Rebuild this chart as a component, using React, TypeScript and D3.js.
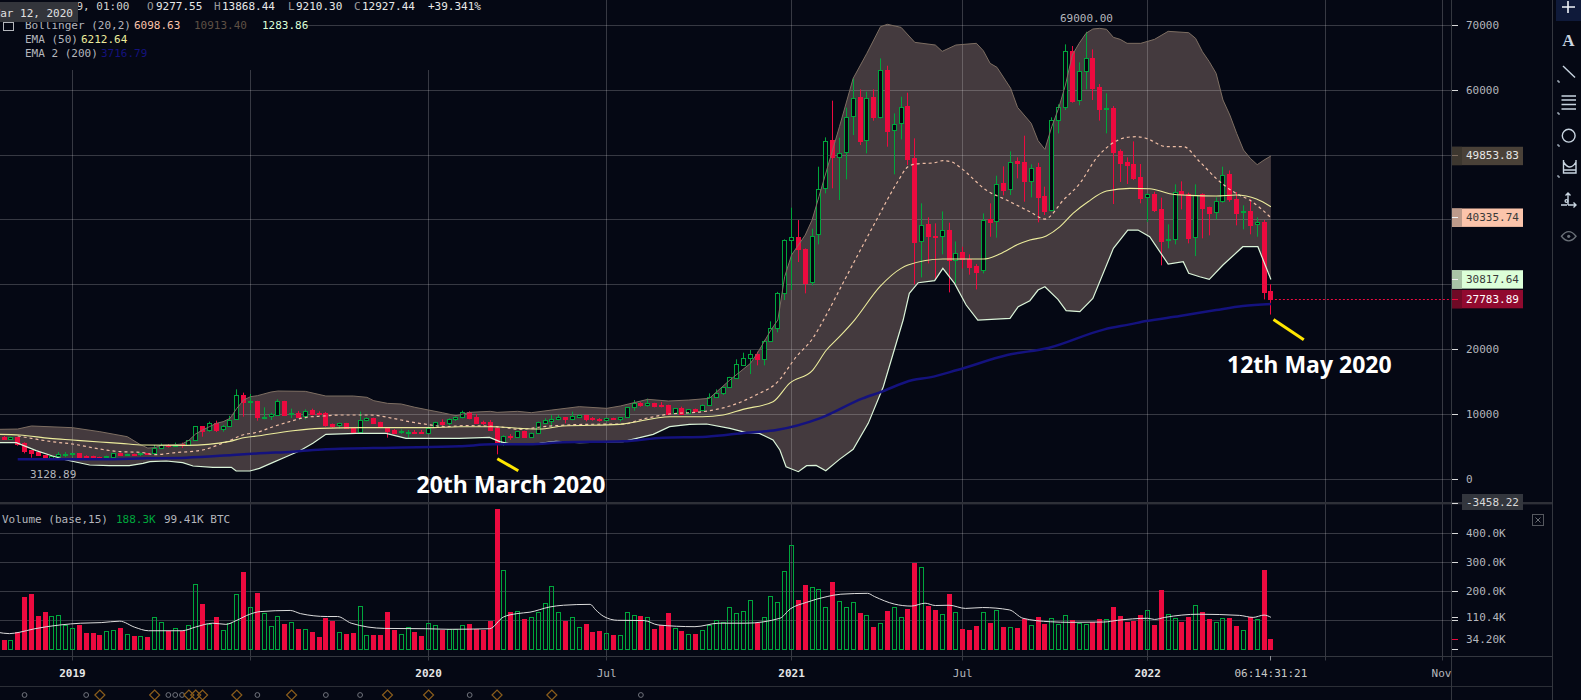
import React from "react";
import * as d3 from "d3";

type Bar = [number, number, number, number]; // open, high, low, close
type Pt = [number, number]; // bar index, value

const candles2018: Bar[] = [
  [6570,6680,6160,6210],[6260,6570,6210,6520],[6470,6520,5180,5490],[5540,5700,4000,4360],[4520,4520,3330,4100],
  [4260,4260,3640,3690],[3690,3740,3128.89,3330],[3330,3690,3280,3640],[3640,4200,3390,3900],[3800,4200,3430,3900],
  [3850,4050,3500,4000],[4000,4000,3430,3440],[3590,3700,3380,3440],[3540,3640,3330,3390],[3440,3490,3330,3390],
  [3390,3640,3330,3590],[3490,4000,3440,4000],[4000,4100,3640,3800],[3800,3950,3640,3900],[3900,3950,3700,3750],
  [3850,4100,3600,4000],[4000,4050,3800,3850],[4000,5290,3900,4880],[4880,5500,4700,5240],[5290,5440,4900,5130],
  [5190,5650,5000,5290],[5490,5650,4850,5240],[5290,6010,5240,6010],[6010,8220,5900,8170],[8170,8200,6570,7500],
  [7550,8890,7340,8630],[8630,9040,7290,7600],[7700,8370,7340,8170],[8170,9800,8100,9190],[9245,13871,9150,12946],
  [12950,13360,9660,11920],[11970,13150,10680,12020],[12020,12100,9040,9660],[9550,11100,9245,9660],[9760,10270,9140,10016],
  [9965,12330,9910,12020],[12020,12100,9900,9970],[10070,10890,9450,10170],[10220,10530,9550,9660],[9710,10790,9245,10580],
  [10680,10890,9860,10070],[10270,10480,9860,10070],[10170,10380,8114,8370],[8525,8600,7910,8270],[8320,8730,7810,8630],
  [8630,8700,7900,7960],[8010,8050,7300,7340],[7340,10430,7240,9090],[9090,9550,8940,9400],[9450,9500,8600,8630],
  [8830,8880,8000,8060],[7960,8060,6420,7450],[7600,7750,7030,7140],[7240,7700,7000,7390],[7240,7600,6420,7290],
  [7340,7600,7040,7240],[7340,7600,7100,7240],
];
const candles2020: Bar[] = [
  [7190,8110,6980,7860],[8010,8880,7950,8780],[8780,9240,8270,8580],[8630,9400,8320,9240],[9240,9700,8990,9550],
  [9550,10580,9400,10320],[10320,10480,9250,9500],[9600,10070,8630,8730],[8780,9040,8370,8630],[8780,9140,7490,7650],
  [7910,8000,3850,5540],[5490,6780,5180,6620],[6730,6980,6060,6570],[6570,7450,6500,7390],[7390,7500,6500,6520],
  [6570,7200,6500,7080],[7080,8900,7000,8780],[8730,9400,8520,9140],[9040,9910,8110,9240],[9240,9910,9100,9550],
  [9550,9600,8630,9240],[9240,10430,9100,9760],[9650,10000,9450,9910],[9860,9950,8930,9240],[9500,9600,9040,9240],
  [9350,9450,8880,9190],[9190,9500,9100,9450],[9450,9500,9150,9240],[9240,9600,8930,9550],[9550,11150,9500,11090],
  [11090,12220,10580,11710],[11810,11900,11190,11500],[11500,12430,11190,11760],[11760,11800,11100,11300],[11500,11910,11090,11400],
  [11400,11500,10000,10070],[10220,11000,10150,10940],[10940,11200,10020,10070],[10170,10850,10100,10790],[10840,10900,10320,10580],
  [10630,11550,10550,11450],[11400,13250,11300,12740],[12740,13870,12650,13250],[13250,14300,13000,14180],[14180,15800,14100,15720],
  [15670,18500,15600,17780],[17670,19520,17620,18650],[18650,19930,16230,19270],[19320,19680,17570,18500],[18500,21500,17570,21370],
  [21370,24350,21200,23280],[23300,28900,22660,28770],
];
const candles2021: Bar[] = [
  [28770,37000,27640,36840],[36840,41880,29180,37400],[37400,39970,33500,35450],[35450,35600,28670,30260],[30360,38640,29900,37560],
  [37770,48200,36220,44750],[44860,52720,44090,52210],[52310,58380,44860,49740],[49740,52670,43060,50360],[50410,57300,46250,55910],
  [55960,61820,53080,58840],[58890,60120,51540,52210],[52260,59760,50260,58840],[58890,60120,55290,55910],[55910,64900,55650,63050],
  [63100,63770,51280,53750],[53800,56420,47020,54830],[54880,58990,52410,57450],[57550,59610,48460,49430],[49480,52570,30060,36630],
  [36680,42550,31130,39260],[39310,40390,33290,37560],[37560,39460,30830,37350],[37460,41310,34680,38380],[38430,39560,28820,33810],
  [33810,36680,30210,34940],[34990,35860,32520,33910],[33910,34680,31550,32780],[32880,33190,29280,31960],[32210,41000,31750,40030],
  [40080,42550,37400,39720],[39770,46810,37250,45580],[45630,48250,43780,44600],[44700,50560,43830,48970],[49020,49640,46400,48820],
  [48920,52980,42800,46040],[46040,48560,43470,48050],[48100,48800,39620,43570],[43680,45120,40750,41410],[41470,55810,41300,55340],
  [55340,57810,53340,57350],[57350,67060,56940,65980],[65980,66810,58070,58330],[58430,64290,57660,62900],[62900,69000,60120,64900],
  [64960,66290,58480,60380],[60480,60950,55300,57140],[57140,59510,53340,57190],[57190,57550,42440,50510],[50610,50870,45840,48820],
  [48920,49640,45530,48510],[48610,52100,46140,46500],[46610,48610,42550,43420],[43470,44090,39670,43930],[43980,44340,41210,41570],
];
const candles2022: Bar[] = [
  [41620,43420,32990,36790],[36840,39310,35610,36990],[36990,45480,36220,44340],[44400,45940,41620,44040],[43980,44190,36380,37250],
  [37300,45480,34420,43880],[43930,44090,37150,41880],[41980,42030,37610,41110],[41160,43470,40080,42850],[42850,48200,42650,46960],
  [47070,47630,42800,43160],[43160,44290,39150,41110],[41160,42240,38540,41310],[41310,43160,37770,39260],[39310,40390,37400,39620],
  [39670,39980,27740,28920],[29030,30060,25400,27783.89],
];
const candles: Bar[] = [...candles2018, ...candles2020, ...candles2021, ...candles2022];

const volumesK = [
  32,31,59,180,191,115,129,114,117,83,72,84,56,56,49,62,66,74,52,46,45,43,110,93,64,72,63,83,224,156,
  88,111,66,91,190,267,145,194,124,79,114,87,93,70,69,60,43,108,99,59,53,56,148,48,49,49,129,67,52,76,
  60,46,90,83,67,69,69,83,87,71,67,98,484,272,129,131,105,110,128,159,217,128,98,110,76,87,60,63,55,49,
  48,128,117,114,110,70,83,125,72,63,52,53,66,83,100,93,145,124,131,169,91,110,183,162,269,359,170,222,214,207,
  145,232,166,145,162,125,117,77,90,132,145,110,139,298,283,149,136,121,191,128,70,67,80,128,91,134,77,76,74,105,
  83,111,87,107,87,117,100,90,86,93,105,103,146,114,94,99,118,134,84,203,121,107,94,113,152,129,105,93,107,108,
  80,66,110,103,273,34.2,
];

const upperBand: Pt[] = [
  [-1,7700],[2,7750],[4,8220],[10,7960],[14,7340],[18,6570],[20,5290],[21,4820],[22,4880],[23,5240],[25,5340],[26,5440],[27,6010],
  [28,7000],[29,7600],[30,8110],[31,8630],[32,8885],[33,9400],[34,10940],[35,12230],[36,12740],[37,12890],[39,13460],[40,13610],
  [44,13560],[47,12840],[51,12840],[53,12640],[54,12120],[56,11710],[58,11610],[60,11100],[62,10680],[64,10270],[66,9810],[68,10320],
  [71,10480],[72,10320],[75,10480],[77,10270],[80,10680],[84,11200],[88,10940],[90,11300],[94,12330],[97,12070],[100,12220],[103,12480],
  [106,15310],[109,17880],[110,19420],[112,23020],[113,24560],[114,31240],[115,34580],[117,37660],[118,39975],[119,43570],[121,50770],
  [122,54370],[124,61820],[126,65675],[128,69790],[129,70150],[131,69680],[133,67370],[136,66960],[137,65980],[139,66960],[142,67220],
  [143,66090],[144,64130],[145,63520],[147,60280],[148,57350],[150,54880],[151,52210],[152,50870],[153,54370],[154,57190],[155,60790],
  [156,65420],[157,67220],[158,68760],[159,69430],[160,69530],[161,69380],[162,68140],[163,67830],[164,67220],[166,67220],[168,67830],
  [170,69070],[173,68860],[174,67990],[175,65930],[176,64390],[177,62590],[178,58480],[179,56170],[180,53340],[181,50770],[182,49480],
  [183,48510],[184,49230],[185,49853.83],
];
const basisBand: Pt[] = [
  [2,6675],[4,6315],[7,5800],[10,5440],[14,4670],[17,4260],[20,4155],[22,3800],[25,4105],[29,4515],[31.5,5390],[33.4,6160],[34.4,6675],
  [37.3,7343],[39.3,8114],[41.7,8885],[44.1,9553],[46.6,9759],[49,9913],[53.4,9913],[56.8,9399],[59.2,8885],[61.7,8474],[64.6,8114],
  [67,8268],[70.4,8217],[73.3,7960],[75.3,7703],[78.7,8112],[85,8472],[90.4,8523],[93.3,9294],[97.2,10065],[102,10425],[106,11299],
  [109.8,12995],[113,15051],[115.7,18906],[118.1,21733],[119.8,24812],[123,31237],[127.4,39975],[130.5,45886],[132,48199],[133.2,48610],
  [135.9,48816],[137.1,49125],[138.3,48970],[139.8,47942],[143.4,44601],[146.4,43059],[149.8,41260],[152,40129],[154.7,43059],[157.1,45629],
  [159.5,49484],[161.5,51540],[163.9,52722],[165.4,52825],[166.8,52568],[169.7,51283],[172.2,51283],[174.6,48970],[177,46400],[179.9,44087],
  [181.9,43059],[185,40335.74],
];
const lowerBand: Pt[] = [
  [-1,5647],[1.8,5647],[4.7,4413],[7.1,3591],[9.1,2974],[12.5,2203],[15.4,2100],[18.3,2100],[20.3,2460],[21.3,2717],[23.7,2820],[26.1,2563],
  [27.6,2049],[30.5,1843],[33.2,1843],[33.9,1278],[35.9,1278],[37.3,1689],[39.3,2614],[41.2,3488],[43.2,4413],[45.1,5544],[47,6932],[51.4,7086],
  [55.8,7086],[58.7,6315],[63.1,6315],[66.5,6315],[70.9,6469],[72.4,5801],[74.3,5390],[78.2,5544],[80.6,5850],[84,5645],[90.4,5800],[94.8,6930],
  [97.2,8112],[100.1,8472],[102.6,8523],[106,7855],[108.4,7187],[110.3,7084],[112.3,6056],[113.3,4514],[114.2,1944],[116,1173],[117.2,2098],
  [118.6,2150],[120,1328],[122,3075],[124,4617],[126.2,8626],[128.4,14280],[131.3,24555],[132.2,28667],[133.5,30312],[135.9,30620],[137.1,32522],
  [138.8,30209],[140.5,26868],[142.2,24555],[146.9,24812],[148.1,26611],[149.8,27536],[151,29181],[152,29695],[153.9,27742],[155.1,25994],
  [157.1,25840],[159,27896],[162,35606],[164.1,38433],[165.6,38433],[167.3,37405],[170,33190],[172.2,33550],[173,31751],[174.6,31237],[176,30826],
  [178,33036],[180.9,35863],[183.1,35863],[185,30817.64],
];
const ema50: Pt[] = [
  [-1,6932],[2.3,6829],[6.7,6315],[10,6058],[14,5750],[17,5544],[20.3,5287],[26.6,5236],[33,5852],[34.4,6264],[37.3,6726],[42.2,7497],[46.1,7857],
  [51.9,7960],[61.7,7960],[66.5,8114],[71.4,8114],[75.3,7857],[78.2,7754],[81.6,8215],[89.9,8472],[97.2,9654],[102,9654],[105,9911],[107.9,10785],
  [112.3,11967],[114.7,14794],[118.1,16850],[120.1,19934],[122,21990],[124.2,24555],[127.9,29695],[131,32522],[132,33035],[137.1,33961],[143,33961],
  [145.4,34733],[148.1,36223],[149.8,36891],[152.2,37508],[154.2,38947],[156.1,41003],[158.3,42802],[161,44447],[164.4,44858],[167.3,44807],
  [170.2,44036],[173.1,43779],[177,43676],[179.9,43830],[182.9,43213],[185,42031],
];
const ema200: Pt[] = [
  [2,3077],[14,3077],[20.8,3231],[26.6,3334],[33.4,3745],[37.3,4002],[42.2,4259],[47,4619],[56.8,4876],[66.5,5081],[71.4,5390],[76.75,5388],[81.6,5696],
  [90.4,5850],[96.2,6415],[102.6,6570],[108.4,7187],[112.8,7598],[119.1,9397],[125.4,12481],[127.9,13406],[132.7,15308],[135.2,15719],[139.2,16850],
  [146.5,19160],[152.5,20250],[160.7,23116],[164.4,23887],[166.8,24401],[171.7,25172],[177,26097],[180.9,26714],[185,27022],
];
const volumeMA: Pt[] = [
  [-1,59],[0.8,54],[2.3,59],[4.3,70],[8.2,84],[11.2,90],[14.2,92],[16.9,97],[19.1,76],[21.1,64],[26,64],[28,77],[30.5,90],[32.4,86],[33.9,99],[35.9,121],
  [37.4,130],[41.8,134],[43.3,123],[47.2,113],[48.7,113],[50.7,90],[55.6,72],[61.6,71],[65,69],[70.9,71],[72.9,111],[74.9,123],[76.8,128],[79.7,146],
  [81.7,152],[85.6,155],[86.4,136],[87.6,113],[89.6,100],[93.5,99],[95.5,84],[100.9,78],[104.4,90],[108.3,90],[113.3,107],[114.8,139],[117.2,162],
  [120.2,182],[122.2,190],[126.1,193],[127.1,182],[130,156],[132.5,149],[134.5,159],[136,151],[138,152],[140.4,141],[142.9,144],[146.8,136],[148.8,107],
  [152.8,95],[155.7,93],[160.6,94],[162.6,100],[167,107],[168,103],[169.5,110],[174.5,121],[180.4,117],[182.4,110],[184,118],[185,110.4],
];

const timeTicks: [number, string, boolean][] = [
  [10,"2019",true],[36,"",false],[62,"2020",true],[88,"Jul",false],[115,"2021",true],[140,"Jul",false],[167,"2022",true],[193,"",false],[210,"Nov",false],
];
const priceGrid = [70000,60000,50000,40000,30000,20000,10000,0];
const priceLabels = [70000,60000,20000,10000,0];
const volGrid = [100,200,300,400];
const volLabels: [number,string][] = [[400,"400.0K"],[300,"300.0K"],[200,"200.0K"],[110.4,"110.4K"],[34.2,"34.20K"]];
const grayMarks = [3,12,24,25,26,37,47,52,68,93];
const orangeMarks = [14,22,27,28,29,34,42,56,62,72,80];
const priceBoxes: [number,string,string,string,string][] = [
  [49853.83,"#4a4138","#3d372f","#e6e6e6","#7a6a5e"],
  [40335.74,"#fbc4ab","#bd9b8b","#3a3a3a","#f0f0f0"],
  [30817.64,"#dcffd8","#a9c4a6","#3a3a3a","#f0f0f0"],
  [27783.89,"#910a2f","#6f0a26","#ffffff","#ed0a3f"],
];

const BG = "#050814", RED = "#ed0a3f", GREEN = "#00a63c", GRID = "rgba(255,255,255,0.2)";
const MONO = "'DejaVu Sans Mono', monospace";
const AXIS_TEXT = "#b4b6bc";

const x = d3.scaleLinear().domain([0, 185]).range([4, 1270.9]);
const y = d3.scaleLinear().domain([0, 70000]).range([479.3, 25.3]);
const yv = d3.scaleLinear().domain([0, 400]).range([649.3, 533.3]);
const crisp = (v: number) => Math.floor(v) + 0.5;
const barLeft = (i: number) => Math.round(x(i) - 2.5);

const priceLine = d3.line<Pt>().x(d => x(d[0])).y(d => y(d[1])).curve(d3.curveMonotoneX);
const volLine = d3.line<Pt>().x(d => x(d[0])).y(d => yv(d[1])).curve(d3.curveMonotoneX);
const straightLine = d3.line<Pt>().x(d => x(d[0])).y(d => y(d[1]));
const bandPath = straightLine([...upperBand, ...[...lowerBand].reverse()]) + "Z";

const T = (p: any) => <text fontFamily={MONO} fontSize={11} dominantBaseline="central" {...p} />;

const Toolbar = () => (
  <g stroke="#c8d4e0" fill="none" strokeWidth={1.4}>
    <rect x={1556} y={0} width={25} height={21} fill="#0f1a3a" stroke="none" />
    <path d="M1568 1V13M1562 7H1575" stroke="#eef2f8" strokeWidth={1.6} />
    <text x={1568.5} y={46} textAnchor="middle" fontFamily="'Liberation Serif', serif" fontWeight="bold" fontSize={17} fill="#c8d4e0" stroke="none">A</text>
    <path d="M1563 66L1575 77.5" />
    <path d="M1561.5 96H1576M1561.5 100H1576M1561.5 104.5H1576M1561.5 109H1576" />
    <circle cx={1568.7} cy={135.7} r={6.4} />
    <path d="M1563.5 160V173H1576V160M1563.5 170H1576M1563.5 162Q1570 172 1576 162" />
    <path d="M1568 193V205M1568 205H1576M1565.5 195.5L1568 193L1570.5 195.5M1573.5 202.5L1576 205L1573.5 207.5M1561 205H1567" />
    <circle cx={1566.5} cy={201} r={1.4} />
    <path d="M1561.5 236.3Q1568.7 227 1576 236.3Q1568.7 245.5 1561.5 236.3Z" stroke="#6a7078" />
    <circle cx={1568.7} cy={236.3} r={1.6} fill="#6a7078" stroke="none" />
    <path d="M1558 80V82H1560M1558 112V114H1560M1558 144V146H1560M1558 175V177H1560" stroke="#c8d4e0" strokeWidth={1} />
  </g>
);

export default function App() {
  React.useEffect(() => {
    document.body.style.margin = "0";
    document.body.style.background = BG;
    document.body.style.overflow = "hidden";
  }, []);
  return (
    <svg width={1581} height={700} style={{ position: "fixed", left: 0, top: 0, display: "block", background: BG }}>
      {/* band */}
      <path d={bandPath} fill="#443a3e" stroke="none" />

      {/* grid */}
      <g stroke={GRID} strokeWidth={1}>
        {priceGrid.map(v => (
          <line key={v} x1={v === 70000 ? 305 : 0} x2={1452} y1={crisp(y(v))} y2={crisp(y(v))} />
        ))}
        {volGrid.map(v => <line key={v} x1={0} x2={1452} y1={crisp(yv(v))} y2={crisp(yv(v))} />)}
        {timeTicks.map(t => (
          <line key={t[0]} x1={crisp(x(t[0]))} x2={crisp(x(t[0]))} y1={x(t[0]) < 500 ? 70 : 0} y2={660.5} />
        ))}
      </g>

      {/* candles */}
      {candles.map((c, i) => {
        const up = c[3] >= c[0];
        const col = up ? GREEN : RED;
        const top = Math.round(y(Math.max(c[0], c[3])));
        const bot = Math.round(y(Math.min(c[0], c[3])));
        const l = barLeft(i);
        return (
          <g key={i}>
            <line x1={l + 2.5} x2={l + 2.5} y1={y(c[1])} y2={y(c[2])} stroke={col} strokeWidth={1} />
            {up
              ? <rect x={l + 0.5} y={top + 0.5} width={4} height={Math.max(bot - top, 1)} fill="#040610" stroke={col} strokeWidth={1} />
              : <rect x={l} y={top} width={5} height={Math.max(bot - top + 1, 2)} fill={RED} />}
          </g>
        );
      })}

      {/* band lines and averages */}
      <path d={straightLine(upperBand)!} fill="none" stroke="#7d6e62" strokeWidth={1} />
      <path d={straightLine(lowerBand)!} fill="none" stroke="#dcf5da" strokeWidth={1.2} />
      <path d={priceLine(basisBand)!} fill="none" stroke="#f0bfa6" strokeWidth={1.2} strokeDasharray="3 3" />
      <path d={priceLine(ema50)!} fill="none" stroke="#ecec9c" strokeWidth={1.1} />
      <path d={priceLine(ema200)!} fill="none" stroke="#14127e" strokeWidth={2.5} />

      {/* last price */}
      <line x1={x(185)} x2={1452} y1={crisp(y(27783.89))} y2={crisp(y(27783.89))} stroke={RED} strokeWidth={1} strokeDasharray="2 2" />

      {/* volume */}
      {volumesK.map((v, i) => {
        const up = candles[i][3] >= candles[i][0];
        const l = barLeft(i);
        const t = Math.round(yv(v));
        const b = Math.round(yv(0));
        return up
          ? <rect key={i} x={l + 0.5} y={t + 0.5} width={4} height={b - t} fill="none" stroke={GREEN} strokeWidth={1} />
          : <rect key={i} x={l} y={t} width={5} height={b - t + 1} fill={RED} />;
      })}
      <path d={volLine(volumeMA)!} fill="none" stroke="#dcdcdc" strokeWidth={1} />

      {/* pane structure */}
      <rect x={0} y={502} width={1552} height={2.4} fill="#2e3038" />
      <line x1={0} x2={1552} y1={656.5} y2={656.5} stroke="#34373f" />
      <line x1={0} x2={1552} y1={686.5} y2={686.5} stroke="#2b2e36" />
      <line x1={1451.5} x2={1451.5} y1={0} y2={700} stroke="#34373f" />
      <line x1={1552.5} x2={1552.5} y1={0} y2={700} stroke="#34373f" />
      <rect x={1452} y={657} width={100} height={29} fill={BG} />
      <line x1={crisp(x(185))} x2={crisp(x(185))} y1={656} y2={660.5} stroke="#8a8d94" />

      {/* price axis */}
      <g>
        {priceGrid.map(v => <line key={v} x1={1452} x2={1458} y1={crisp(y(v))} y2={crisp(y(v))} stroke="#dadada" />)}
        {priceLabels.map(v => <T key={v} x={1466} y={y(v)} fill={AXIS_TEXT}>{v}</T>)}
        {priceBoxes.map(b => {
          const cy = y(b[0]);
          return (
            <g key={b[1]}>
              <rect x={1452} y={cy - 9.2} width={71} height={18.4} fill={b[1]} />
              <rect x={1452} y={cy - 9.2} width={10} height={18.4} fill={b[2]} />
              <line x1={1452} x2={1458} y1={crisp(cy)} y2={crisp(cy)} stroke={b[4]} />
              <T x={1466} y={cy} fill={b[3]}>{b[0].toFixed(2)}</T>
            </g>
          );
        })}
        <rect x={1462} y={494} width={61} height={16} fill="#33363d" />
        <line x1={1452} x2={1458} y1={503.5} y2={503.5} stroke="#dadada" />
        <T x={1466} y={502} fill="#d8d8d8">-3458.22</T>
      </g>

      {/* volume axis */}
      <g>
        {volGrid.slice(1).map(v => <line key={v} x1={1452} x2={1458} y1={crisp(yv(v))} y2={crisp(yv(v))} stroke="#dadada" />)}
        <line x1={1452} x2={1458} y1={crisp(yv(100))} y2={crisp(yv(100))} stroke="#dadada" />
        <line x1={1452} x2={1458} y1={crisp(yv(110.4))} y2={crisp(yv(110.4))} stroke="#dadada" />
        <line x1={1452} x2={1458} y1={crisp(yv(34.2))} y2={crisp(yv(34.2))} stroke={RED} />
        <line x1={1452} x2={1458} y1={crisp(yv(0))} y2={crisp(yv(0))} stroke="#dadada" />
        {volLabels.map(l => <T key={l[1]} x={1466} y={yv(l[0])} fill={AXIS_TEXT}>{l[1]}</T>)}
        <rect x={1532.5} y={514.5} width={11} height={11} fill="none" stroke="#55585f" />
        <path d="M1535.5 517.5L1540.5 522.5M1540.5 517.5L1535.5 522.5" stroke="#6a6d74" />
      </g>

      {/* time axis labels */}
      {timeTicks.filter(t => t[1]).map(t => (
        <T key={t[0]} x={t[1] === "Nov" ? 1441.5 : x(t[0])} y={673} textAnchor="middle"
           fill={t[2] ? "#e6e6e6" : AXIS_TEXT} fontWeight={t[2] ? "bold" : "normal"}>{t[1]}</T>
      ))}
      <T x={x(185)} y={673} textAnchor="middle" fill="#c8c8c8">06:14:31:21</T>

      {/* event marks */}
      {grayMarks.map(i => <circle key={"g" + i} cx={x(i)} cy={695} r={2.4} fill="none" stroke="#70737c" strokeWidth={1} />)}
      {orangeMarks.map(i => (
        <path key={"o" + i} d={`M${x(i) - 5} 695L${x(i)} 690L${x(i) + 5} 695L${x(i)} 700Z`} fill="none" stroke="#8a5d1c" strokeWidth={1.2} />
      ))}

      {/* extreme labels */}
      <T x={1060} y={18} fill={AXIS_TEXT}>69000.00</T>
      <T x={30} y={474} fill={AXIS_TEXT}>3128.89</T>

      {/* annotations */}
      <line x1={497.3} y1={458.7} x2={518.3} y2={470.7} stroke="#ffe600" strokeWidth={3} />
      <line x1={1273.5} y1={319.5} x2={1303.8} y2={339.8} stroke="#ffe600" strokeWidth={3} />
      <text x={416.5} y={484} dominantBaseline="central" fontFamily="'Open Sans', sans-serif" fontWeight={700} fontSize={23} fill="#ffffff">20th March 2020</text>
      <text x={1227} y={364} dominantBaseline="central" fontFamily="'Open Sans', sans-serif" fontWeight={700} fontSize={23} fill="#ffffff">12th May 2020</text>

      {/* header */}
      <T x={76.4} y={6} fill="#d0d0d0">9, 01:00</T>
      <T x={147} y={6} fill="#9a9a9a">O</T><T x={156} y={6} fill="#e8e8e8">9277.55</T>
      <T x={214} y={6} fill="#9a9a9a">H</T><T x={222} y={6} fill="#e8e8e8">13868.44</T>
      <T x={288} y={6} fill="#9a9a9a">L</T><T x={296} y={6} fill="#e8e8e8">9210.30</T>
      <T x={354} y={6} fill="#9a9a9a">C</T><T x={362} y={6} fill="#e8e8e8">12927.44</T>
      <T x={428} y={6} fill="#e8e8e8">+39.341%</T>

      <T x={25} y={25.5} fill="#b4b6bc">Bollinger (20,2)</T>
      <T x={134} y={25.5} fill="#fbc4ab">6098.63</T>
      <T x={194} y={25.5} fill="#5e5044">10913.40</T>
      <T x={262} y={25.5} fill="#dcffd8">1283.86</T>
      <T x={25} y={39.5} fill="#b4b6bc">EMA (50)</T>
      <T x={81} y={39.5} fill="#ecec9c">6212.64</T>
      <T x={25} y={53.5} fill="#b4b6bc">EMA 2 (200)</T>
      <T x={101} y={53.5} fill="#14127e">3716.79</T>
      <rect x={3.5} y={22.5} width={10} height={8} fill="none" stroke="#b4b6bc" />

      <rect x={0} y={2} width={78} height={20} fill="#33353b" />
      <T x={73} y={13} textAnchor="end" fill="#e0e0e0">Mar 12, 2020</T>

      <T x={2} y={519} fill="#b4b6bc">Volume (base,15)</T>
      <T x={116} y={519} fill={GREEN}>188.3K</T>
      <T x={164} y={519} fill="#b4b6bc">99.41K BTC</T>

      <Toolbar />
    </svg>
  );
}
